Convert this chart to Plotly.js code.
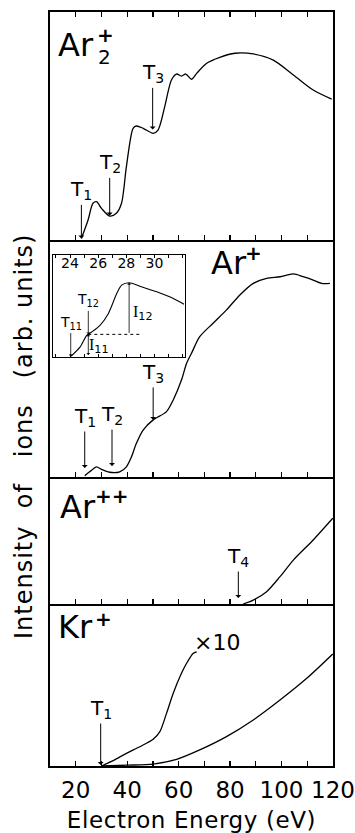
<!DOCTYPE html>
<html><head><meta charset="utf-8">
<script src="https://cdn.plot.ly/plotly-3.0.1.min.js"></script>
<style>
html,body{margin:0;padding:0;background:#fff;}
#chart{width:355px;height:833px;}
.annotation[data-index="0"] text{letter-spacing:1px;}
.g-xtitle text{letter-spacing:0.6px;}
</style>
</head><body><div id="chart"></div>
<script>
// ---------- data (energies in eV, signals in arbitrary units) ----------
const ar2Energy = [22.2, 24.8, 26.7, 28.1, 30.0, 33.2, 35.8, 37.8, 39.7, 42.3, 43.6, 46.2, 50.1, 52.0, 54.6, 57.2, 59.2, 61.1, 62.8, 65.0, 67.0, 70.9, 76.0, 81.9, 89.0, 96.8, 104.6, 112.3, 119.5];
const ar2Signal = [0.7, 8.8, 16.1, 16.8, 13.9, 10.5, 11.7, 16.1, 32.2, 49.0, 50.0, 49.0, 46.8, 48.2, 58.5, 70.2, 72.8, 71.9, 72.8, 70.5, 73.1, 77.5, 80.1, 81.9, 81.6, 78.9, 72.4, 65.8, 61.8];

const arEnergy = [23.5, 25.4, 28.1, 30.0, 33.2, 37.1, 39.7, 41.7, 43.5, 46.2, 50.1, 55.3, 57.9, 61.1, 63.1, 65.0, 68.2, 73.4, 78.6, 83.8, 89.0, 94.2, 99.4, 104.6, 108.4, 112.3, 115.6, 118.8];
const arSignal = [0.5, 2.2, 4.3, 3.2, 2.0, 2.2, 4.3, 8.6, 14.0, 19.8, 24.1, 27.6, 32.5, 40.9, 48.0, 52.2, 59.2, 64.9, 70.5, 76.8, 81.7, 83.8, 84.5, 85.7, 84.5, 83.1, 81.7, 81.7];

const ar2pEnergy = [85.1, 89.0, 94.2, 99.4, 104.6, 112.3, 119.9];
const ar2pSignal = [0.0, 3.1, 9.7, 21.5, 34.6, 50.4, 67.5];

const krEnergy = [30.0, 40.0, 50.1, 59.2, 68.2, 78.6, 89.0, 99.4, 109.8, 119.9];
const krSignal = [0.0, 0.5, 1.2, 4.1, 9.9, 18.1, 28.4, 40.7, 54.1, 69.1];

const krX10Energy = [30.0, 34.5, 39.7, 44.9, 50.1, 52.7, 55.3, 57.9, 61.1, 63.1, 65.6, 67.0];
const krX10Signal = [0.0, 3.3, 7.8, 11.9, 16.5, 21.2, 32.5, 44.9, 57.2, 63.4, 69.5, 70.5];

// inset (Ar+ near threshold)
const insetEnergy = [24.05, 24.71, 25.19, 25.54, 26.13, 26.72, 27.32, 27.67, 28.19, 28.97, 30.16, 31.34, 32.1];
const insetSignal = [0.0, 9.2, 20.8, 24.1, 30.7, 42.2, 62.0, 70.3, 72.6, 69.3, 63.7, 57.1, 51.5];
const insetTicks = [24, 26, 28, 30];
const insetT11 = 24.05, insetT12 = 25.3, insetI11 = 21.8, insetPeakE = 28.2, insetPeakI = 72.6;

// thresholds (energy, signal level at arrow tip)
const ar2ThrE = [22.2, 33.2, 49.9], ar2ThrI = [0.7, 10.8, 48.5], ar2ThrLbl = ['1', '2', '3'];
const arThrE = [23.5, 34.1, 50.1], arThrI = [3.8, 4.6, 24.1], arThrLbl = ['1', '2', '3'];
const ar2pThrE = [83.2], ar2pThrI = [4.7], ar2pThrLbl = ['4'];
const krThrE = [29.7], krThrI = [0.6], krThrLbl = ['1'];

const xTickVals = [20, 40, 60, 80, 100, 120];
const xTitle = 'Electron Energy (eV)';
const yTitle = 'Intensity\u00a0\u00a0of\u00a0\u00a0\u00a0ions\u00a0\u00a0\u00a0(arb.\u00a0units)';

// ---------- layout helpers ----------
const W = 355, H = 833, ML = 50, MR = 22, MT = 12, MB = 67;
const PW = W - ML - MR, PH = H - MT - MB;
const px2x = p => (p - ML) / PW;
const px2y = p => (H - MB - p) / PH;
const FONT = 'DejaVu Sans';
const BLACK = '#000';

function line(x, y, xa, ya, w) {
  return {x, y, xaxis: xa, yaxis: ya, type: 'scatter', mode: 'lines',
    line: {color: BLACK, width: w || 1.3, shape: 'spline', smoothing: 0.8},
    hoverinfo: 'skip', showlegend: false};
}
const data = [
  line(krEnergy, krSignal, 'x', 'y'),
  line(krX10Energy, krX10Signal, 'x', 'y'),
  line(ar2pEnergy, ar2pSignal, 'x2', 'y2'),
  line(arEnergy, arSignal, 'x3', 'y3'),
  line(ar2Energy, ar2Signal, 'x4', 'y4'),
  line(insetEnergy, insetSignal, 'x5', 'y5', 1.1)
];

function xAxis(anchor, labels, mirror) {
  return {
    anchor, range: [10, 120], tick0: 20, dtick: 20, ticks: 'inside', ticklen: 5, tickwidth: 1.3,
    tickcolor: BLACK, showticklabels: labels, showline: true, linecolor: BLACK, linewidth: 1.8,
    mirror, showgrid: false, zeroline: false, fixedrange: true,
    minor: {dtick: 10, ticks: 'inside', ticklen: 5, tickwidth: 1.3, tickcolor: BLACK, showgrid: false},
    tickfont: {family: FONT, size: 23, color: BLACK}, ticklabelstandoff: 3, ticklabeloverflow: 'allow'
  };
}
function yAxis(anchor, domain) {
  return {anchor, domain, range: [0, 100], showticklabels: false, ticks: '', showline: true,
    linecolor: BLACK, linewidth: 1.8, mirror: true, showgrid: false, zeroline: false, fixedrange: true};
}

const dK = [0, px2y(604)], dA2p = [px2y(604), px2y(477)], dA = [px2y(477), px2y(240)], dA2 = [px2y(240), 1];

const ann = [];
// y title (index 0)
ann.push({xref: 'paper', yref: 'paper', x: px2x(23), y: px2y(436.5), text: yTitle, textangle: -90,
  showarrow: false, xanchor: 'center', yanchor: 'middle', font: {family: FONT, size: 24, color: BLACK}});

function thr(xa, ya, E, I, lbl, ay) {
  E.forEach((e, i) => ann.push({xref: xa, yref: ya, x: e, y: I[i], text: 'T<sub>' + lbl[i] + '</sub>',
    showarrow: true, ax: 0, ay: ay[i], arrowhead: 1, arrowsize: 1, arrowwidth: 1, arrowcolor: BLACK,
    standoff: 0, font: {family: FONT, size: 20, color: BLACK}}));
}
thr('x4', 'y4', ar2ThrE, ar2ThrI, ar2ThrLbl, [-48, -52, -56]);
thr('x3', 'y3', arThrE, arThrI, arThrLbl, [-51, -51, -47]);
thr('x2', 'y2', ar2pThrE, ar2pThrI, ar2pThrLbl, [-41]);
thr('x', 'y', krThrE, krThrI, krThrLbl, [-56]);

function lbl(text, px, py, size, anchor, bold) {
  ann.push({xref: 'paper', yref: 'paper', x: px2x(px), y: px2y(py), text: bold ? '<b>' + text + '</b>' : text,
    showarrow: false, xanchor: anchor || 'left', yanchor: 'middle',
    font: {family: FONT, size, color: BLACK}});
}
// panel labels
lbl('Ar', 56, 45, 32); lbl('2', 104, 57, 20, 'center'); lbl('+', 105, 35, 20, 'center', true);
lbl('Ar', 209, 263, 32); lbl('+', 253, 253, 20, 'center', true);
lbl('Ar', 58, 507, 32); lbl('++', 112, 496, 20, 'center', true);
lbl('Kr', 56, 627, 32); lbl('+', 103, 619, 20, 'center', true);
// x10
ann.push({xref: 'x', yref: 'y', x: 75.1, y: 76.2, text: '×10', showarrow: false, xanchor: 'center', yanchor: 'middle',
  font: {family: FONT, size: 22, color: BLACK}});

// inset annotations
const insF = {family: FONT, size: 14, color: BLACK};
ann.push({xref: 'x5', yref: 'y5', x: insetT11, y: 0, text: 'T<sub>11</sub>', showarrow: true, ax: 0, ay: -34,
  arrowhead: 1, arrowsize: 0.8, arrowwidth: 0.8, arrowcolor: BLACK, standoff: 0, font: insF});
ann.push({xref: 'x5', yref: 'y5', x: insetT12, y: insetI11, text: 'T<sub>12</sub>', showarrow: true, ax: 0, ay: -34,
  arrowhead: 1, arrowsize: 0.8, arrowwidth: 0.8, arrowcolor: BLACK, standoff: 0, font: insF});
ann.push({xref: 'x5', yref: 'y5', x: insetT12, y: insetI11, ax: insetT12, ay: 0, axref: 'x5', ayref: 'y5', text: '',
  showarrow: true, arrowhead: 1, arrowside: 'end+start', arrowsize: 0.8, arrowwidth: 0.8, arrowcolor: BLACK, standoff: 0, startstandoff: 0});
ann.push({xref: 'x5', yref: 'y5', x: insetPeakE, y: insetPeakI, ax: insetPeakE, ay: insetI11, axref: 'x5', ayref: 'y5', text: '',
  showarrow: true, arrowhead: 1, arrowsize: 0.8, arrowwidth: 0.8, arrowcolor: BLACK, standoff: 0});
const IF = '<span style="font-family:Liberation Serif">I</span>';
ann.push({xref: 'x5', yref: 'y5', x: 26.06, y: 9.9, text: IF + '<sub>11</sub>', showarrow: false, font: {family: FONT, size: 16, color: BLACK}});
ann.push({xref: 'x5', yref: 'y5', x: 29.18, y: 42.6, text: IF + '<sub>12</sub>', showarrow: false, font: {family: FONT, size: 16, color: BLACK}});

const layout = {
  width: W, height: H, margin: {l: ML, r: MR, t: MT, b: MB, pad: 0},
  paper_bgcolor: '#fff', plot_bgcolor: 'rgba(0,0,0,0)', showlegend: false,
  font: {family: FONT, color: BLACK},
  xaxis: Object.assign(xAxis('y', true, false), {title: {text: xTitle, standoff: 9, font: {family: FONT, size: 23, color: BLACK}}, tickvals: xTickVals}),
  yaxis: yAxis('x', dK),
  xaxis2: xAxis('y2', false, false), yaxis2: yAxis('x2', dA2p),
  xaxis3: xAxis('y3', false, false), yaxis3: yAxis('x3', dA),
  xaxis4: xAxis('y4', false, 'ticks'), yaxis4: yAxis('x4', dA2),
  xaxis5: {anchor: 'y5', domain: [px2x(52.7), px2x(185)], range: [22.77, 32.17], side: 'top',
    tickvals: insetTicks, ticks: 'inside', ticklen: 3, tickwidth: 1, tickcolor: BLACK, mirror: 'ticks',
    ticklabelposition: 'inside', tickfont: {family: FONT, size: 14, color: BLACK},
    showline: true, linecolor: BLACK, linewidth: 1.2, showgrid: false, zeroline: false, fixedrange: true,
    minor: {dtick: 1, ticks: 'inside', ticklen: 3, tickcolor: BLACK, showgrid: false}},
  yaxis5: {anchor: 'x5', domain: [px2y(356.5), px2y(255)], range: [0, 100], showticklabels: false, ticks: '',
    showline: true, linecolor: BLACK, linewidth: 1.2, mirror: true, showgrid: false, zeroline: false, fixedrange: true},
  annotations: ann,
  shapes: [{type: 'line', xref: 'x5', yref: 'y5', x0: insetT12, x1: 28.97, y0: insetI11, y1: insetI11,
    line: {color: BLACK, width: 1, dash: 'dot'}}]
};

Plotly.newPlot('chart', data, layout, {staticPlot: true, displayModeBar: false});
</script>
</body></html>
